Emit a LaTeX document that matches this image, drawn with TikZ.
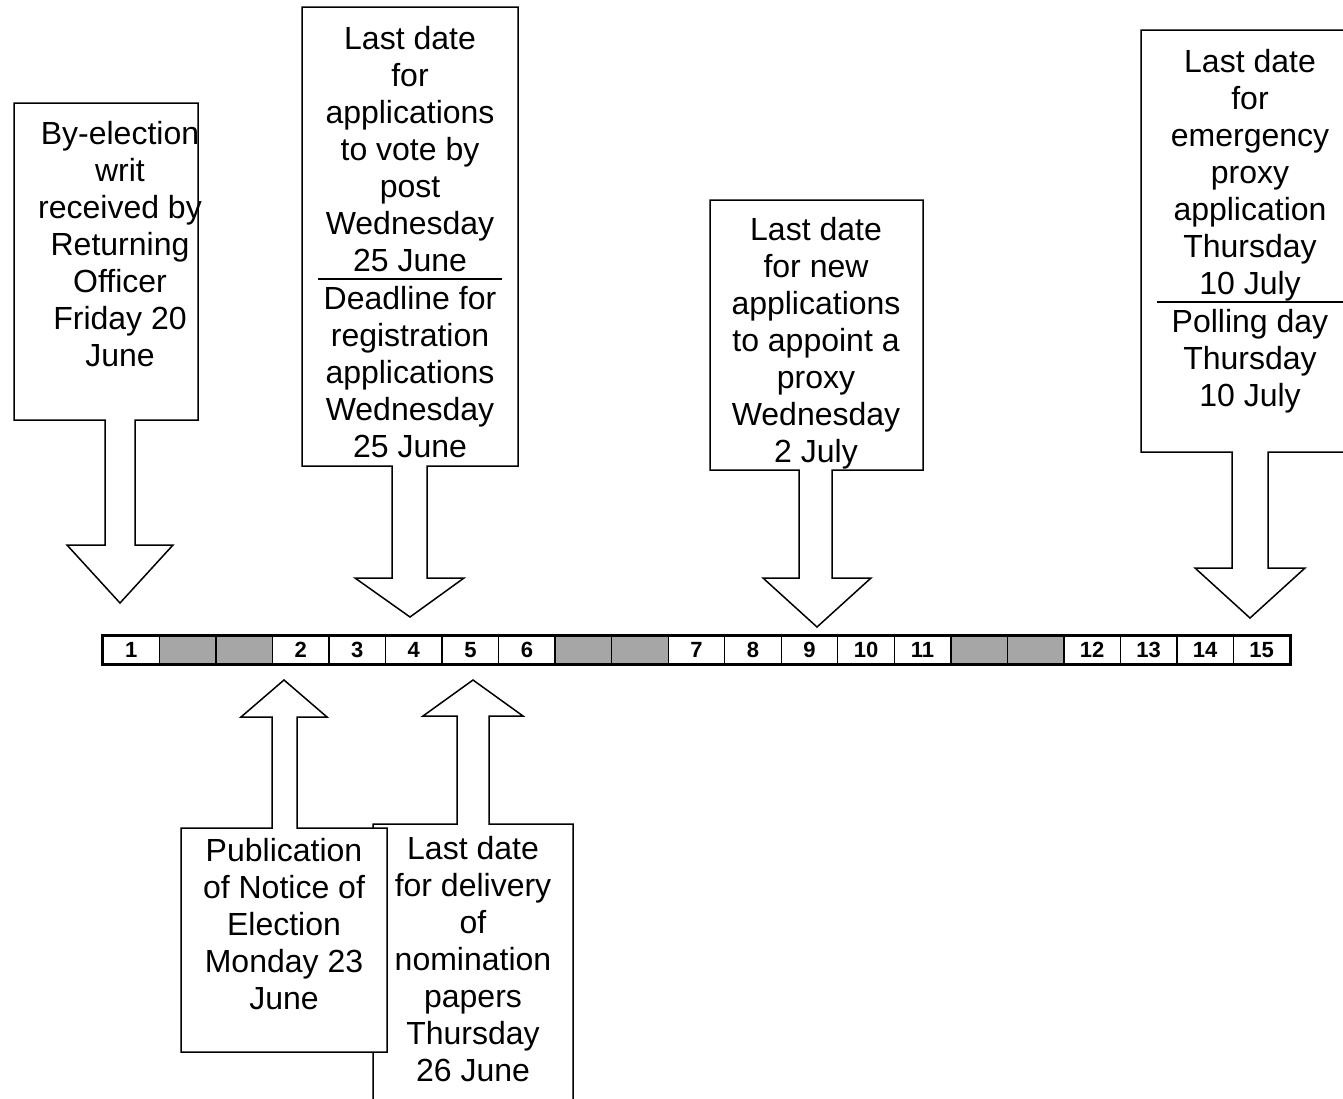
\documentclass[tikz,border=0pt]{standalone}
\usepackage{fontspec}
\setmainfont{Liberation Sans}
\definecolor{cellgray}{HTML}{A6A6A6}
\begin{document}
\begin{tikzpicture}[x=0.5pt,y=-0.5pt,
  callout/.style={draw=black,line width=0.75pt,fill=white,line join=miter},
  lbl/.style={align=center,font=\fontsize{16}{18.5}\selectfont,inner sep=0pt},
  sep/.style={draw=black,line width=0.75pt},
  cell/.style={draw=black,line width=0.7pt,minimum width=28.26pt,minimum height=14pt,inner sep=0pt,font=\fontsize{11}{12}\selectfont\bfseries},
  bar/.style={draw=black,line width=1.2pt}]
\clip (0,0) rectangle (1343,1098);
\fill[white] (0,0) rectangle (1343,1098);

% timeline cells
\foreach \i/\t/\f in {0/1/white,1/{}/cellgray,2/{}/cellgray,3/2/white,4/3/white,5/4/white,6/5/white,7/6/white,8/{}/cellgray,9/{}/cellgray,10/7/white,11/8/white,12/9/white,13/10/white,14/11/white,15/{}/cellgray,16/{}/cellgray,17/12/white,18/13/white,19/14/white,20/15/white}
  \node[cell,fill=\f] (c\i) at ({103+56.52*(\i+0.5)},650) {\t};
\draw[bar] (c0.north west) rectangle (c20.south east);

% callout 1
\draw[callout] (14,103) -- (198,103) -- (198,420) -- (135,420) -- (135,545) -- (173,545) -- (120,603) -- (67,545) -- (105,545) -- (105,420) -- (14,420) -- cycle;
\coordinate (t1) at (120,603);
\node[lbl] (n1) at (120,244) {By-election\\writ\\received by\\Returning\\Officer\\Friday 20\\June};

% callout 2
\draw[callout] (302,7) -- (518,7) -- (518,466) -- (427,466) -- (427,578) -- (464,578) -- (410,617) -- (355,578) -- (392,578) -- (392,466) -- (302,466) -- cycle;
\coordinate (t2) at (410,617);
\node[lbl] (n2a) at (410,149) {Last date\\for\\applications\\to vote by\\post\\Wednesday\\25 June};
\draw[sep] (318,279) -- (502,279);
\node[lbl] (n2b) at (410,372) {Deadline for\\registration\\applications\\Wednesday\\25 June};

% callout 3
\draw[callout] (710,200) -- (923,200) -- (923,470) -- (832,470) -- (832,578) -- (871,578) -- (817,627) -- (763,578) -- (799,578) -- (799,470) -- (710,470) -- cycle;
\coordinate (t3) at (817,627);
\node[lbl] (n3) at (816,343.5) {Last date\\for new\\applications\\to appoint a\\proxy\\Wednesday\\2 July};

% callout 4
\draw[callout] (1141,30) -- (1370,30) -- (1370,452) -- (1268,452) -- (1268,568) -- (1305,568) -- (1250,618) -- (1195,568) -- (1232,568) -- (1232,452) -- (1141,452) -- cycle;
\coordinate (t4) at (1250,618);
\node[lbl] (n4a) at (1250,175) {Last date\\for\\emergency\\proxy\\application\\Thursday\\10 July};
\draw[sep] (1157,302) -- (1343,302);
\node[lbl] (n4b) at (1250,361) {Polling day\\Thursday\\10 July};

% callout 6 (behind 5)
\draw[callout] (373,824) -- (457,824) -- (457,716) -- (423,716) -- (473,680) -- (523,716) -- (489,716) -- (489,824) -- (573,824) -- (573,1120) -- (373,1120) -- cycle;
\coordinate (t6) at (473,680);
\node[lbl] (n6) at (473,959) {Last date\\for delivery\\of\\nomination\\papers\\Thursday\\26 June};

% callout 5
\draw[callout] (181,828) -- (272,828) -- (272,717) -- (241,717) -- (284,680) -- (327,717) -- (297,717) -- (297,828) -- (387,828) -- (387,1052) -- (181,1052) -- cycle;
\coordinate (t5) at (284,680);
\node[lbl] (n5) at (284,924) {Publication\\of Notice of\\Election\\Monday 23\\June};
\end{tikzpicture}
\end{document}
